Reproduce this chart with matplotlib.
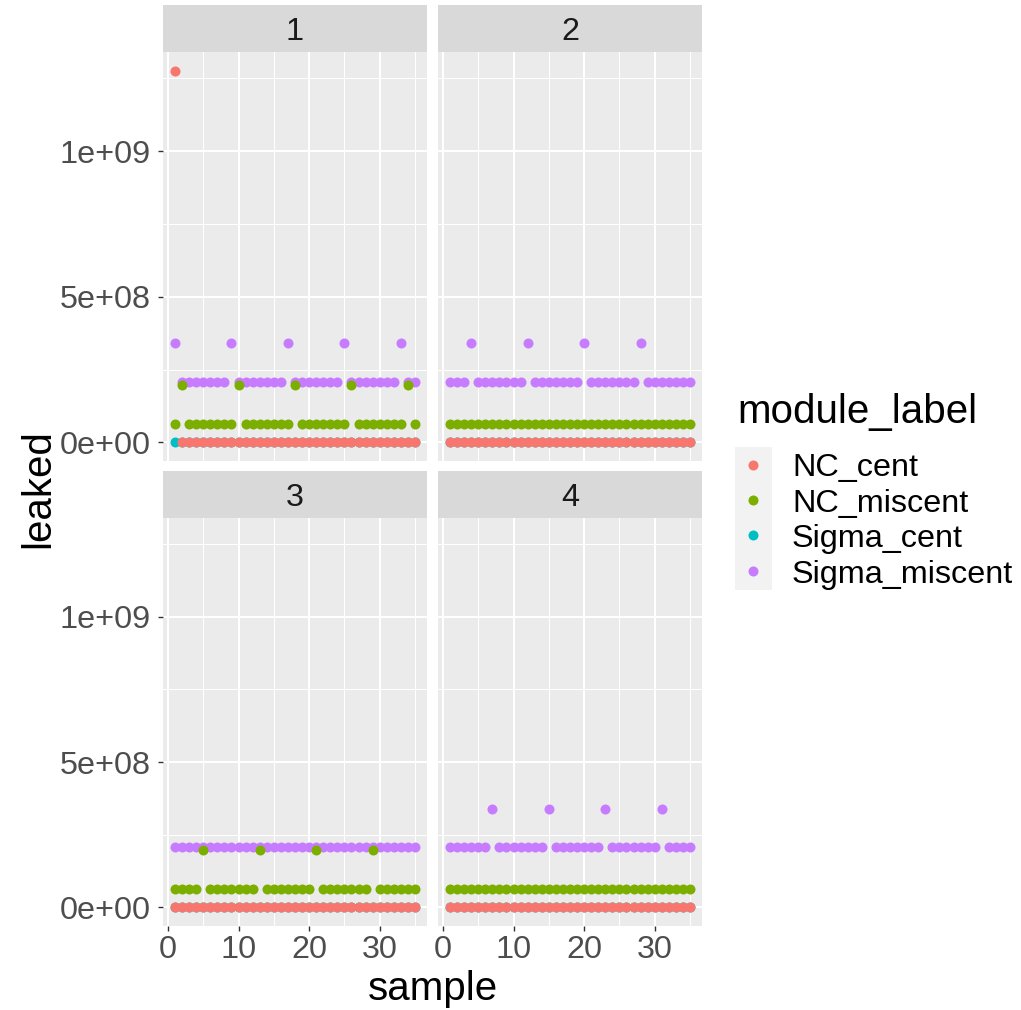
import matplotlib
matplotlib.use("Agg")
import matplotlib.pyplot as plt
from matplotlib.patches import Rectangle
import numpy as np

plt.rcParams['font.family'] = ['Liberation Sans', 'DejaVu Sans']

# ---------------- data ----------------
samples = list(range(1, 36))
panels = ["1", "2", "3", "4"]
module_labels = ["NC_cent", "NC_miscent", "Sigma_cent", "Sigma_miscent"]
colors = ["#F8766D", "#7CAE00", "#00BFC4", "#C77CFF"]

p1_NC_cent = [1.276e9, 0.0, 0.0, 0.0, 0.0, 0.0, 0.0,
              0.0, 0.0, 0.0, 0.0, 0.0, 0.0, 0.0,
              0.0, 0.0, 0.0, 0.0, 0.0, 0.0, 0.0,
              0.0, 0.0, 0.0, 0.0, 0.0, 0.0, 0.0,
              0.0, 0.0, 0.0, 0.0, 0.0, 0.0, 0.0]
p1_NC_miscent = [6.4e7, 1.96e8, 6.4e7, 6.4e7, 6.4e7, 6.4e7, 6.4e7,
                 6.4e7, 6.4e7, 1.96e8, 6.4e7, 6.4e7, 6.4e7, 6.4e7,
                 6.4e7, 6.4e7, 6.4e7, 1.96e8, 6.4e7, 6.4e7, 6.4e7,
                 6.4e7, 6.4e7, 6.4e7, 6.4e7, 1.96e8, 6.4e7, 6.4e7,
                 6.4e7, 6.4e7, 6.4e7, 6.4e7, 6.4e7, 1.96e8, 6.4e7]
p1_Sigma_cent = [0.0, 0.0, 0.0, 0.0, 0.0, 0.0, 0.0,
                 0.0, 0.0, 0.0, 0.0, 0.0, 0.0, 0.0,
                 0.0, 0.0, 0.0, 0.0, 0.0, 0.0, 0.0,
                 0.0, 0.0, 0.0, 0.0, 0.0, 0.0, 0.0,
                 0.0, 0.0, 0.0, 0.0, 0.0, 0.0, 0.0]
p1_Sigma_miscent = [3.40e8, 2.07e8, 2.07e8, 2.07e8, 2.07e8, 2.07e8, 2.07e8,
                    2.07e8, 3.40e8, 2.07e8, 2.07e8, 2.07e8, 2.07e8, 2.07e8,
                    2.07e8, 2.07e8, 3.40e8, 2.07e8, 2.07e8, 2.07e8, 2.07e8,
                    2.07e8, 2.07e8, 2.07e8, 3.40e8, 2.07e8, 2.07e8, 2.07e8,
                    2.07e8, 2.07e8, 2.07e8, 2.07e8, 3.40e8, 2.07e8, 2.07e8]

p2_NC_cent = [0.0, 0.0, 0.0, 0.0, 0.0, 0.0, 0.0,
              0.0, 0.0, 0.0, 0.0, 0.0, 0.0, 0.0,
              0.0, 0.0, 0.0, 0.0, 0.0, 0.0, 0.0,
              0.0, 0.0, 0.0, 0.0, 0.0, 0.0, 0.0,
              0.0, 0.0, 0.0, 0.0, 0.0, 0.0, 0.0]
p2_NC_miscent = [6.4e7, 6.4e7, 6.4e7, 6.4e7, 6.4e7, 6.4e7, 6.4e7,
                 6.4e7, 6.4e7, 6.4e7, 6.4e7, 6.4e7, 6.4e7, 6.4e7,
                 6.4e7, 6.4e7, 6.4e7, 6.4e7, 6.4e7, 6.4e7, 6.4e7,
                 6.4e7, 6.4e7, 6.4e7, 6.4e7, 6.4e7, 6.4e7, 6.4e7,
                 6.4e7, 6.4e7, 6.4e7, 6.4e7, 6.4e7, 6.4e7, 6.4e7]
p2_Sigma_cent = [0.0, 0.0, 0.0, 0.0, 0.0, 0.0, 0.0,
                 0.0, 0.0, 0.0, 0.0, 0.0, 0.0, 0.0,
                 0.0, 0.0, 0.0, 0.0, 0.0, 0.0, 0.0,
                 0.0, 0.0, 0.0, 0.0, 0.0, 0.0, 0.0,
                 0.0, 0.0, 0.0, 0.0, 0.0, 0.0, 0.0]
p2_Sigma_miscent = [2.07e8, 2.07e8, 2.07e8, 3.40e8, 2.07e8, 2.07e8, 2.07e8,
                    2.07e8, 2.07e8, 2.07e8, 2.07e8, 3.40e8, 2.07e8, 2.07e8,
                    2.07e8, 2.07e8, 2.07e8, 2.07e8, 2.07e8, 3.40e8, 2.07e8,
                    2.07e8, 2.07e8, 2.07e8, 2.07e8, 2.07e8, 2.07e8, 3.40e8,
                    2.07e8, 2.07e8, 2.07e8, 2.07e8, 2.07e8, 2.07e8, 2.07e8]

p3_NC_cent = [0.0, 0.0, 0.0, 0.0, 0.0, 0.0, 0.0,
              0.0, 0.0, 0.0, 0.0, 0.0, 0.0, 0.0,
              0.0, 0.0, 0.0, 0.0, 0.0, 0.0, 0.0,
              0.0, 0.0, 0.0, 0.0, 0.0, 0.0, 0.0,
              0.0, 0.0, 0.0, 0.0, 0.0, 0.0, 0.0]
p3_NC_miscent = [6.4e7, 6.4e7, 6.4e7, 6.4e7, 1.96e8, 6.4e7, 6.4e7,
                 6.4e7, 6.4e7, 6.4e7, 6.4e7, 6.4e7, 1.96e8, 6.4e7,
                 6.4e7, 6.4e7, 6.4e7, 6.4e7, 6.4e7, 6.4e7, 1.96e8,
                 6.4e7, 6.4e7, 6.4e7, 6.4e7, 6.4e7, 6.4e7, 6.4e7,
                 1.96e8, 6.4e7, 6.4e7, 6.4e7, 6.4e7, 6.4e7, 6.4e7]
p3_Sigma_cent = [0.0, 0.0, 0.0, 0.0, 0.0, 0.0, 0.0,
                 0.0, 0.0, 0.0, 0.0, 0.0, 0.0, 0.0,
                 0.0, 0.0, 0.0, 0.0, 0.0, 0.0, 0.0,
                 0.0, 0.0, 0.0, 0.0, 0.0, 0.0, 0.0,
                 0.0, 0.0, 0.0, 0.0, 0.0, 0.0, 0.0]
p3_Sigma_miscent = [2.07e8, 2.07e8, 2.07e8, 2.07e8, 2.07e8, 2.07e8, 2.07e8,
                    2.07e8, 2.07e8, 2.07e8, 2.07e8, 2.07e8, 2.07e8, 2.07e8,
                    2.07e8, 2.07e8, 2.07e8, 2.07e8, 2.07e8, 2.07e8, 2.07e8,
                    2.07e8, 2.07e8, 2.07e8, 2.07e8, 2.07e8, 2.07e8, 2.07e8,
                    2.07e8, 2.07e8, 2.07e8, 2.07e8, 2.07e8, 2.07e8, 2.07e8]

p4_NC_cent = [0.0, 0.0, 0.0, 0.0, 0.0, 0.0, 0.0,
              0.0, 0.0, 0.0, 0.0, 0.0, 0.0, 0.0,
              0.0, 0.0, 0.0, 0.0, 0.0, 0.0, 0.0,
              0.0, 0.0, 0.0, 0.0, 0.0, 0.0, 0.0,
              0.0, 0.0, 0.0, 0.0, 0.0, 0.0, 0.0]
p4_NC_miscent = [6.4e7, 6.4e7, 6.4e7, 6.4e7, 6.4e7, 6.4e7, 6.4e7,
                 6.4e7, 6.4e7, 6.4e7, 6.4e7, 6.4e7, 6.4e7, 6.4e7,
                 6.4e7, 6.4e7, 6.4e7, 6.4e7, 6.4e7, 6.4e7, 6.4e7,
                 6.4e7, 6.4e7, 6.4e7, 6.4e7, 6.4e7, 6.4e7, 6.4e7,
                 6.4e7, 6.4e7, 6.4e7, 6.4e7, 6.4e7, 6.4e7, 6.4e7]
p4_Sigma_cent = [0.0, 0.0, 0.0, 0.0, 0.0, 0.0, 0.0,
                 0.0, 0.0, 0.0, 0.0, 0.0, 0.0, 0.0,
                 0.0, 0.0, 0.0, 0.0, 0.0, 0.0, 0.0,
                 0.0, 0.0, 0.0, 0.0, 0.0, 0.0, 0.0,
                 0.0, 0.0, 0.0, 0.0, 0.0, 0.0, 0.0]
p4_Sigma_miscent = [2.07e8, 2.07e8, 2.07e8, 2.07e8, 2.07e8, 2.07e8, 3.40e8,
                    2.07e8, 2.07e8, 2.07e8, 2.07e8, 2.07e8, 2.07e8, 2.07e8,
                    3.40e8, 2.07e8, 2.07e8, 2.07e8, 2.07e8, 2.07e8, 2.07e8,
                    2.07e8, 3.40e8, 2.07e8, 2.07e8, 2.07e8, 2.07e8, 2.07e8,
                    2.07e8, 2.07e8, 3.40e8, 2.07e8, 2.07e8, 2.07e8, 2.07e8]

panel_data = {
    "1": {"NC_cent": p1_NC_cent, "NC_miscent": p1_NC_miscent,
          "Sigma_cent": p1_Sigma_cent, "Sigma_miscent": p1_Sigma_miscent},
    "2": {"NC_cent": p2_NC_cent, "NC_miscent": p2_NC_miscent,
          "Sigma_cent": p2_Sigma_cent, "Sigma_miscent": p2_Sigma_miscent},
    "3": {"NC_cent": p3_NC_cent, "NC_miscent": p3_NC_miscent,
          "Sigma_cent": p3_Sigma_cent, "Sigma_miscent": p3_Sigma_miscent},
    "4": {"NC_cent": p4_NC_cent, "NC_miscent": p4_NC_miscent,
          "Sigma_cent": p4_Sigma_cent, "Sigma_miscent": p4_Sigma_miscent},
}

x_major = [0, 10, 20, 30]
x_minor = [5, 15, 25, 35]
y_major = [0, 5e8, 1e9]
y_major_labels = ["0e+00", "5e+08", "1e+09"]
y_minor = [2.5e8, 7.5e8, 1.25e9]

# ---------------- style ----------------
W, H = 1021, 1010
fig = plt.figure(figsize=(W / 100, H / 100), dpi=100)
fig.patch.set_facecolor("white")

PANEL_BG = "#EBEBEB"
STRIP_BG = "#D9D9D9"
TICK_TXT = "#4D4D4D"
TICK_COL = "#333333"
FS_SMALL = 23.3
FS_TITLE = 29
PT_SIZE = 52

draw_order = ["Sigma_cent", "Sigma_miscent", "NC_miscent", "NC_cent"]
color_of = dict(zip(module_labels, colors))

# limits with ggplot-like 5% expansion
all_y = [v for p in panel_data.values() for s in p.values() for v in s]
ymin, ymax = min(all_y), max(all_y)
yr = ymax - ymin
ylim = (ymin - 0.05 * yr, ymax + 0.05 * yr)
xr = max(samples) - min(samples)
xlim = (min(samples) - 0.05 * xr, max(samples) + 0.05 * xr)


def px_axes(l, t, r, b):
    return fig.add_axes([l / W, 1 - b / H, (r - l) / W, (b - t) / H])


cols = [(163, 427), (438, 702)]
rows = [((5, 52), (52, 461)), ((471, 518), (518, 926))]

for idx, pname in enumerate(panels):
    ri, ci = divmod(idx, 2)
    (l, r) = cols[ci]
    (st, sb), (pt, pb) = rows[ri]

    # strip
    sax = px_axes(l, st, r, sb)
    sax.set_facecolor(STRIP_BG)
    sax.set_xticks([]); sax.set_yticks([])
    for sp in sax.spines.values():
        sp.set_visible(False)
    fig.text((l + r) / 2 / W, 1 - ((st + sb) / 2 + 11.5) / H, pname,
             ha="center", va="baseline", fontsize=FS_SMALL, color="#1A1A1A")

    ax = px_axes(l, pt, r, pb)
    ax.set_facecolor(PANEL_BG)
    for sp in ax.spines.values():
        sp.set_visible(False)
    ax.set_xlim(*xlim)
    ax.set_ylim(*ylim)
    ax.set_xticks(x_major)
    ax.set_xticks(x_minor, minor=True)
    ax.set_yticks(y_major)
    ax.set_yticks(y_minor, minor=True)
    ax.grid(which="major", color="white", linewidth=1.5)
    ax.grid(which="minor", color="white", linewidth=0.75)
    ax.set_axisbelow(True)
    ax.tick_params(which="minor", length=0)
    ax.tick_params(which="major", length=3.6, width=1.0, color=TICK_COL,
                   labelsize=FS_SMALL, labelcolor=TICK_TXT)
    ax.tick_params(axis="y", pad=5.5)
    ax.tick_params(axis="x", pad=3.0)
    if ci == 0:
        ax.set_yticklabels(y_major_labels)
    else:
        ax.tick_params(axis="y", which="both", left=False, labelleft=False)
    if ri == 1:
        ax.set_xticklabels([str(v) for v in x_major])
    else:
        ax.tick_params(axis="x", which="both", bottom=False, labelbottom=False)

    for lab in draw_order:
        ax.scatter(samples, panel_data[pname][lab], s=PT_SIZE,
                   color=color_of[lab], linewidths=0, zorder=3)

# axis titles
fig.text(432.5 / W, 1 - 1000 / H, "sample", ha="center", va="baseline",
         fontsize=FS_TITLE, color="black")
fig.text(49 / W, 1 - 489 / H, "leaked", rotation=90, rotation_mode="anchor",
         ha="center", va="baseline", fontsize=FS_TITLE, color="black")

# legend
lax = fig.add_axes([0, 0, 1, 1])
lax.set_xlim(0, W)
lax.set_ylim(H, 0)
lax.axis("off")
lax.patch.set_alpha(0)
lax.text(737, 422.7, "module_label", ha="left", va="baseline",
         fontsize=FS_TITLE, color="black")
key_y = [465, 500, 535, 571]
lax.add_patch(Rectangle((735, 447), 37, 143, facecolor="#F2F2F2",
                        edgecolor="none"))
for lab, ky in zip(module_labels, key_y):
    lax.scatter([753], [ky], s=PT_SIZE, color=color_of[lab], linewidths=0)
    lax.text(792, ky + 11.5, lab, ha="left", va="baseline",
             fontsize=FS_SMALL, color="black")

fig.savefig("out.png", dpi=100)
